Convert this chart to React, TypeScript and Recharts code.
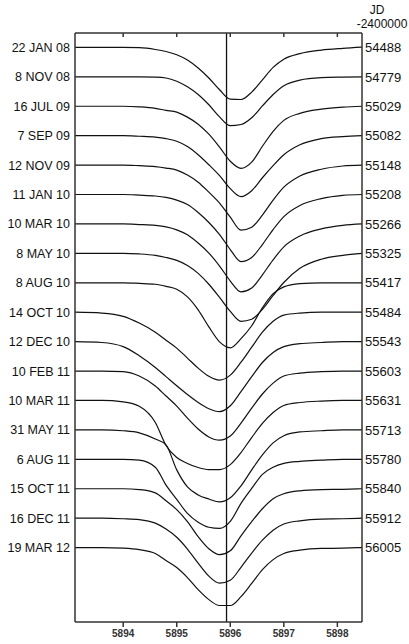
import React from 'react';
import { LineChart, Line, XAxis, YAxis, ReferenceLine } from 'recharts';

// wavelength grid (Angstrom)
const wavelengths = [5893.1, 5893.6, 5894.0, 5894.3, 5894.6, 5894.8, 5895.0, 5895.2, 5895.4, 5895.6, 5895.8, 5896.0, 5896.2, 5896.4, 5896.6, 5896.8, 5897.0, 5897.3, 5897.7, 5898.1, 5898.46];

const dates = ['22 JAN 08', '8 NOV 08', '16 JUL 09', '7 SEP 09', '12 NOV 09', '11 JAN 10', '10 MAR 10', '8 MAY 10', '8 AUG 10', '14 OCT 10', '12 DEC 10', '10 FEB 11', '10 MAR 11', '31 MAY 11', '6 AUG 11', '15 OCT 11', '16 DEC 11', '19 MAR 12'];
const jdValues = ['54488', '54779', '55029', '55082', '55148', '55208', '55266', '55325', '55417', '55484', '55543', '55603', '55631', '55713', '55780', '55840', '55912', '56005'];

// normalized flux (%) for each spectrum, on the wavelength grid
const fJan08 = [100, 100, 100, 99.9, 99.3, 98.6, 97.5, 95.7, 93.0, 89.6, 85.6, 82.4, 82.3, 84.8, 89.0, 93.2, 96.0, 97.9, 99.1, 99.7, 100.1];
const fNov08 = [100, 100, 100, 100, 99.9, 99.6, 98.5, 96.6, 94.0, 90.5, 86.4, 83.4, 83.8, 86.1, 90.1, 94.0, 97.0, 98.9, 99.7, 99.9, 100];
const fJul09 = [100, 100, 100, 99.8, 99.3, 98.6, 98.0, 96.3, 93.9, 90.5, 86.1, 81.3, 78.9, 81.0, 86.4, 91.5, 95.2, 97.6, 99.0, 99.7, 100];
const fSep09 = [100, 100, 100, 99.8, 99.5, 99.0, 98.1, 96.3, 93.5, 90.1, 86.4, 82.0, 79.3, 81.3, 85.7, 89.8, 93.5, 96.9, 99.0, 99.7, 100];
const fNov09 = [100, 100, 100, 99.8, 99.5, 99.0, 98.3, 96.6, 94.2, 90.8, 87.1, 82.3, 77.9, 78.9, 83.0, 88.1, 92.5, 96.3, 98.6, 99.7, 100];
const fJan10 = [100, 100, 100, 99.8, 99.5, 99.0, 98.1, 96.6, 93.9, 90.5, 86.4, 81.3, 77.2, 78.6, 83.0, 88.1, 92.5, 96.3, 98.6, 99.7, 100];
const fMar10 = [100, 100, 100, 99.8, 99.5, 99.0, 98.0, 96.3, 93.5, 90.1, 85.7, 80.6, 76.9, 78.2, 82.7, 87.8, 92.2, 95.9, 98.3, 99.5, 100];
const fMay10 = [100, 100, 100, 99.8, 99.3, 98.6, 97.6, 95.9, 93.2, 89.5, 85.0, 80.3, 76.9, 77.6, 81.0, 85.7, 90.1, 94.9, 98.0, 99.3, 100];
const fAug10 = [100, 100, 100, 99.8, 99.5, 98.8, 97.8, 95.2, 90.8, 85.0, 79.9, 77.9, 81.0, 85.4, 91.5, 96.3, 98.6, 99.7, 100, 100, 100];
const fOct10 = [100, 99.7, 98.6, 96.3, 93.2, 90.5, 87.8, 84.4, 81.0, 78.2, 76.9, 78.6, 83.0, 88.1, 93.2, 96.9, 99.0, 99.7, 100, 100, 100];
const fDec10 = [100, 99.7, 98.3, 95.2, 91.2, 88.1, 85.0, 82.0, 79.3, 77.2, 76.2, 78.2, 83.0, 88.1, 92.9, 96.3, 98.3, 99.3, 99.7, 100, 100];
const fFeb11 = [100, 100, 99.8, 98.3, 94.9, 91.5, 88.1, 84.0, 80.3, 77.6, 76.5, 77.9, 82.3, 87.4, 92.2, 95.9, 98.3, 99.3, 99.8, 100, 100];
const fMar11 = [100, 100, 99.5, 98.0, 92.5, 84.7, 80.6, 78.6, 77.2, 76.5, 76.5, 78.2, 82.3, 87.4, 92.2, 95.9, 98.3, 99.3, 99.8, 100, 100];
const fMay11 = [100, 100, 99.7, 99.0, 96.9, 94.9, 86.4, 80.6, 77.9, 76.5, 75.5, 76.9, 81.0, 86.4, 91.5, 95.6, 98.0, 99.3, 99.7, 100, 100];
const fAug11 = [100, 100, 100, 99.7, 97.3, 91.2, 86.4, 81.6, 78.6, 76.9, 76.5, 78.9, 85.0, 90.1, 94.9, 97.3, 98.6, 99.3, 99.7, 100, 100];
const fOct11 = [100, 100, 100, 99.7, 98.6, 95.9, 92.9, 88.8, 83.7, 79.6, 77.6, 78.9, 84.0, 88.8, 93.2, 96.6, 98.3, 99.3, 99.7, 99.8, 100];
const fDec11 = [100, 100, 99.8, 99.5, 98.3, 96.3, 93.5, 89.5, 84.7, 80.3, 77.9, 78.9, 83.3, 88.1, 92.5, 95.9, 98.0, 99.1, 99.7, 99.8, 100];
const fMar12 = [100, 100, 99.8, 99.3, 98.0, 95.6, 93.2, 89.8, 85.7, 82.3, 80.3, 80.3, 83.3, 87.8, 92.5, 95.9, 98.0, 99.1, 99.7, 99.8, 100];

const profiles = [fJan08, fNov08, fJul09, fSep09, fNov09, fJan10, fMar10, fMay10, fAug10, fOct10, fDec10, fFeb11, fMar11, fMay11, fAug11, fOct11, fDec11, fMar12];

const restWavelength = 5895.93;
const rowStep = 10; // vertical offset between spectra (flux %)
const xTicks = [5894, 5895, 5896, 5897, 5898];
const xDomain: [number, number] = [5893.1, 5898.46];
const yDomain: [number, number] = [-195.3, 4.9];

const data = wavelengths.map((w, i) => {
  const row: Record<string, number> = { w };
  profiles.forEach((p, k) => {
    row['r' + k] = p[i] - 100 - rowStep * k;
  });
  return row;
});

const yTicks = dates.map((_, k) => -rowStep * k);
const idx = (v: number) => Math.round(-v / rowStep);

const FONT = '"Liberation Sans", Arial, sans-serif';

const EmptyTick = () => <g />;

const LeftTick = (props: any) => {
  const { x, y, payload } = props;
  return (
    <text x={x} y={y} dy="0.36em" textAnchor="end" fontSize={12.5} fill="#111" fontFamily={FONT}>
      {dates[idx(payload.value)]}
    </text>
  );
};

const RightTick = (props: any) => {
  const { x, y, payload } = props;
  return (
    <text x={x} y={y} dy="0.36em" textAnchor="start" fontSize={13} fill="#111" fontFamily={FONT}>
      {jdValues[idx(payload.value)]}
    </text>
  );
};

export default function App() {
  return (
    <div style={{ position: 'absolute', left: 0, top: 0, width: 409, height: 644, background: '#fff', fontFamily: FONT }}>
      <LineChart width={409} height={644} data={data} margin={{ top: 33, right: 0, bottom: 0, left: 0 }}>
        <XAxis
          dataKey="w"
          type="number"
          domain={xDomain}
          ticks={xTicks}
          allowDataOverflow
          height={22}
          tickSize={5}
          tickMargin={3}
          stroke="#333"
          strokeWidth={1.5}
          tick={{ fontSize: 10, fill: '#333', fontWeight: 'bold', fontFamily: FONT }}
        />
        <XAxis
          xAxisId="top"
          orientation="top"
          dataKey="w"
          type="number"
          domain={xDomain}
          ticks={xTicks}
          allowDataOverflow
          mirror
          tickSize={4}
          tick={EmptyTick}
          stroke="#333"
          strokeWidth={1.5}
        />
        <YAxis
          type="number"
          domain={yDomain}
          ticks={yTicks}
          interval={0}
          allowDataOverflow
          width={75}
          tickSize={0}
          tickMargin={5}
          stroke="#333"
          strokeWidth={1.5}
          tick={LeftTick}
        />
        <YAxis
          yAxisId="right"
          orientation="right"
          type="number"
          domain={yDomain}
          ticks={yTicks}
          interval={0}
          allowDataOverflow
          width={47}
          tickSize={0}
          tickMargin={3}
          stroke="#333"
          strokeWidth={1.5}
          tick={RightTick}
        />
        <ReferenceLine x={restWavelength} stroke="#111" strokeWidth={1.3} />
        {profiles.map((_, k) => (
          <Line
            key={k}
            dataKey={'r' + k}
            type="monotone"
            dot={false}
            stroke="#111"
            strokeWidth={1.2}
            isAnimationActive={false}
          />
        ))}
      </LineChart>
      <div style={{ position: 'absolute', left: 362, top: 4, width: 30, textAlign: 'center', fontSize: 12, color: '#111', lineHeight: '12px' }}>JD</div>
      <div style={{ position: 'absolute', left: 354, top: 18, width: 56, textAlign: 'center', fontSize: 12, color: '#111', lineHeight: '12px' }}>-2400000</div>
    </div>
  );
}
